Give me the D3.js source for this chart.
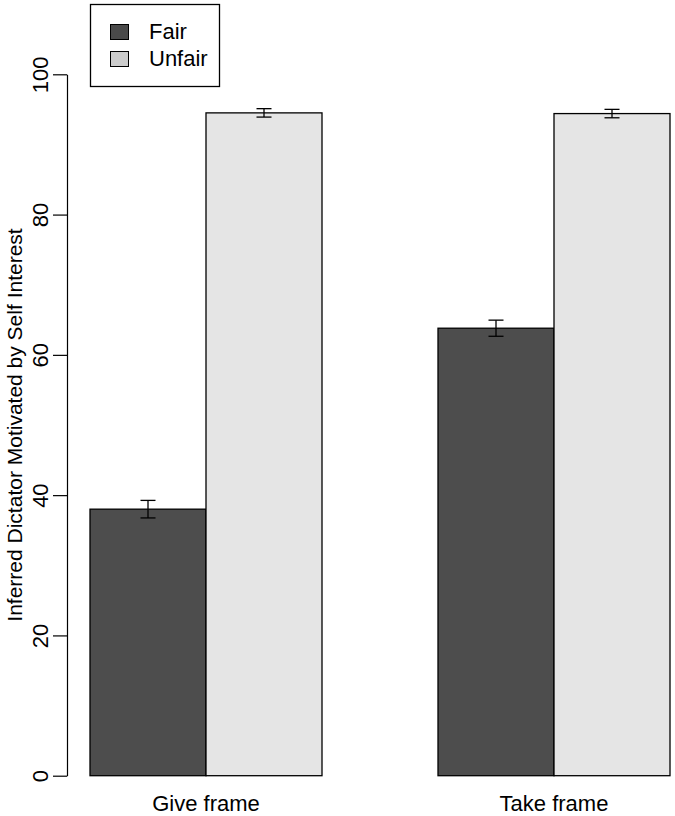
<!DOCTYPE html>
<html>
<head>
<meta charset="utf-8">
<script src="https://cdn.jsdelivr.net/npm/d3@7"></script>
<style>
  body { margin: 0; background: #fff; }
  text { font-family: "Liberation Sans", Arial, sans-serif; }
</style>
</head>
<body>
<script>
// data
var frames = ["Give frame", "Take frame"];
var conditions = ["Fair", "Unfair"];
var means = [[38.0, 94.5], [63.8, 94.4]];   // [frame][condition]
var errs = [[1.25, 0.6], [1.15, 0.6]];
var yTicks = [0, 20, 40, 60, 80, 100];

var width = 675, height = 816;
var barFill = ["#4d4d4d", "#e5e5e5"];
var legendFill = ["#4a4a4a", "#cccccc"];

var svg = d3.select("body")
	.append("svg")
	.attr("width", width)
	.attr("height", height);

// y scale: 0 at bottom of bars, 100 at top tick
var yScale = d3.scaleLinear()
	.domain([0, 100])
	.range([775.7, 74.3]);

// x: R style beside bars, each group 2 units with 1 unit gap
var xScale = d3.scaleLinear()
	.domain([0, 5])
	.range([90, 670]);

var bars = [];
frames.forEach(function(f, i) {
	conditions.forEach(function(c, j) {
		bars.push({frame: f, cond: j, x0: i * 3 + j, v: means[i][j], e: errs[i][j]});
	});
});

// bars
svg.append("g")
	.selectAll("rect")
	.data(bars)
	.enter().append("rect")
	.attr("x", function(d) { return xScale(d.x0); })
	.attr("y", function(d) { return yScale(d.v); })
	.attr("width", function(d) { return xScale(d.x0 + 1) - xScale(d.x0); })
	.attr("height", function(d) { return yScale(0) - yScale(d.v); })
	.attr("fill", function(d) { return barFill[d.cond]; })
	.attr("stroke", "#000")
	.attr("stroke-width", 1.3);

// error bars
var eb = svg.append("g")
	.attr("stroke", "#000")
	.attr("stroke-width", 1.3)
	.selectAll("g")
	.data(bars)
	.enter().append("g");
eb.append("line")
	.attr("x1", function(d) { return xScale(d.x0 + 0.5); })
	.attr("x2", function(d) { return xScale(d.x0 + 0.5); })
	.attr("y1", function(d) { return yScale(d.v + d.e); })
	.attr("y2", function(d) { return yScale(d.v - d.e); });
eb.selectAll("line.cap")
	.data(function(d) { return [[d, d.v + d.e], [d, d.v - d.e]]; })
	.enter().append("line")
	.attr("class", "cap")
	.attr("x1", function(p) { return xScale(p[0].x0 + 0.5) - 7.5; })
	.attr("x2", function(p) { return xScale(p[0].x0 + 0.5) + 7.5; })
	.attr("y1", function(p) { return yScale(p[1]); })
	.attr("y2", function(p) { return yScale(p[1]); });

// y axis
var yAxis = svg.append("g")
	.attr("transform", "translate(67,0)")
	.call(d3.axisLeft(yScale).tickValues(yTicks).tickSize(14).tickSizeOuter(0));
yAxis.select(".domain").attr("stroke", "#000").attr("stroke-width", 1.2);
yAxis.selectAll(".tick line").attr("stroke", "#000").attr("stroke-width", 1.2);
yAxis.selectAll(".tick text").remove();
yAxis.selectAll(".tick")
	.append("text")
	.attr("transform", "translate(-19,0) rotate(-90)")
	.attr("text-anchor", "middle")
	.attr("fill", "#000")
	.attr("font-size", 22)
	.text(function(d) { return d; });

// y axis title
svg.append("text")
	.attr("transform", "translate(22," + yScale(50) + ") rotate(-90)")
	.attr("text-anchor", "middle")
	.attr("font-size", 21)
	.attr("fill", "#000")
	.text("Inferred Dictator Motivated by Self Interest");

// x labels
svg.append("g")
	.selectAll("text")
	.data(frames)
	.enter().append("text")
	.attr("x", function(d, i) { return xScale(i * 3 + 1); })
	.attr("y", 811)
	.attr("text-anchor", "middle")
	.attr("font-size", 22)
	.attr("fill", "#000")
	.text(function(d) { return d; });

// legend
var legend = svg.append("g");
legend.append("rect")
	.attr("x", 90.5)
	.attr("y", 4.5)
	.attr("width", 129)
	.attr("height", 82)
	.attr("fill", "#fff")
	.attr("stroke", "#000")
	.attr("stroke-width", 1.3);
var li = legend.selectAll("g")
	.data(conditions)
	.enter().append("g")
	.attr("transform", function(d, i) { return "translate(0," + i * 27 + ")"; });
li.append("rect")
	.attr("x", 110.5)
	.attr("y", 24.5)
	.attr("width", 18)
	.attr("height", 15)
	.attr("fill", function(d, i) { return legendFill[i]; })
	.attr("stroke", "#000")
	.attr("stroke-width", 1);
li.append("text")
	.attr("x", 149)
	.attr("y", 39)
	.attr("font-size", 22)
	.attr("fill", "#000")
	.text(function(d) { return d; });
</script>
</body>
</html>
